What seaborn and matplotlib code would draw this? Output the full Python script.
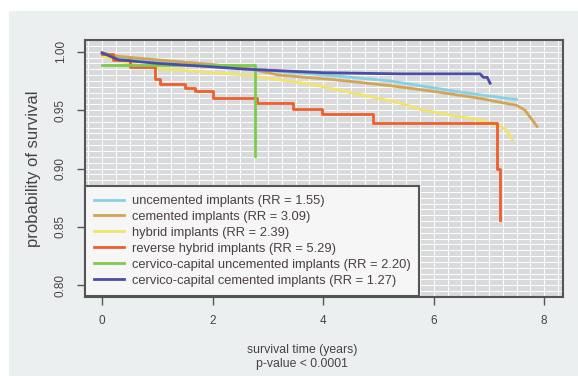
import matplotlib
matplotlib.use("Agg")
import matplotlib.pyplot as plt
import seaborn as sns
import pandas as pd
from matplotlib.patches import Rectangle

plt.rcParams["font.family"] = ["Liberation Sans", "DejaVu Sans"]

# ---------------- data ----------------
labels = [
    "uncemented implants (RR = 1.55)",
    "cemented implants (RR = 3.09)",
    "hybrid implants (RR = 2.39)",
    "reverse hybrid implants (RR = 5.29)",
    "cervico-capital uncemented implants (RR = 2.20)",
    "cervico-capital cemented implants (RR = 1.27)",
]
colors = ["#86d2e4", "#d3a455", "#f1e46c", "#ee5f2c", "#7dcb4c", "#4b4ea6"]

uncem_t = [0, 0.3, 1.0, 2.0, 2.8, 3.5, 4.3, 5.2, 6.4, 7.0, 7.5]
uncem_s = [0.999, 0.995, 0.991, 0.988, 0.985, 0.982, 0.979, 0.975, 0.966, 0.962, 0.959]

cem_t = [0, 0.3, 1.0, 2.0, 2.6, 3.2, 4.2, 5.2, 6.0, 6.84, 7.5, 7.65, 7.87]
cem_s = [0.999, 0.996, 0.993, 0.989, 0.986, 0.980, 0.976, 0.971, 0.966, 0.960, 0.954, 0.950, 0.936]

hyb_t = [0, 0.3, 0.9, 2.0, 2.6, 3.2, 3.8, 4.6, 5.4, 5.8, 6.4, 6.9, 7.3, 7.42]
hyb_s = [0.996, 0.992, 0.986, 0.982, 0.980, 0.976, 0.972, 0.964, 0.956, 0.950, 0.945, 0.941, 0.934, 0.925]

rev_t = [0, 0.2, 0.5, 0.96, 1.05, 1.5, 1.68, 2.0, 2.8, 3.46, 3.98, 4.9, 7.15, 7.2]
rev_s = [0.998, 0.993, 0.987, 0.977, 0.972, 0.969, 0.966, 0.960, 0.956, 0.951, 0.947, 0.939, 0.900, 0.856]

ccu_t = [0, 2.77]
ccu_s = [0.989, 0.911]

ccc_t = [0, 0.3, 1.0, 2.0, 2.6, 4.0, 5.4, 6.84, 6.9, 6.97, 7.02]
ccc_s = [0.999, 0.993, 0.990, 0.987, 0.985, 0.982, 0.981, 0.981, 0.978, 0.978, 0.973]

series_t = [uncem_t, cem_t, hyb_t, rev_t, ccu_t, ccc_t]
series_s = [uncem_s, cem_s, hyb_s, rev_s, ccu_s, ccc_s]
steps = [False, False, False, True, True, False]

xticks = [0, 2, 4, 6, 8]
yticks = [0.80, 0.85, 0.90, 0.95, 1.00]

# ---------------- figure ----------------
W, H = 578, 376
fig = plt.figure(figsize=(W / 100, H / 100), dpi=100)
fig.patch.set_facecolor("white")
bg = Rectangle((9 / W, 0), 1 - 9 / W, 1 - 11 / H, transform=fig.transFigure,
               facecolor="#eceff0", edgecolor="none", zorder=-10)
fig.patches.append(bg)

ax = fig.add_axes([85 / W, 1 - 297 / H, (563 - 85) / W, (297 - 40) / H])
ax.set_zorder(5)
ax.set_facecolor("#d9dadb")

for lab, col, t, s, st in zip(labels, colors, series_t, series_s, steps):
    df = pd.DataFrame({"time": t, "surv": s})
    kw = dict(drawstyle="steps-post") if st else {}
    sns.lineplot(data=df, x="time", y="surv", ax=ax, color=col, lw=2.0,
                 estimator=None, sort=False, label=lab, **kw)

ax.set_xlim(-0.31, 8.34)
ax.set_ylim(0.7915, 1.0085)
ax.set_xticks(xticks)
ax.set_xticklabels([str(v) for v in xticks])
ax.set_yticks(yticks)
ax.set_yticklabels([f"{v:.2f}" for v in yticks], rotation=90, va="center")
ax.set_xticks([i * 0.25 for i in range(-1, 34)], minor=True)
ax.set_yticks([0.79 + i * 0.005 for i in range(0, 45)], minor=True)
ax.grid(True, which="both", color="white", lw=0.7)
ax.set_axisbelow(True)
ax.tick_params(which="minor", length=0)
ax.tick_params(which="major", direction="out", length=6, width=1, color="#555555",
               labelsize=8.5, labelcolor="#444444", pad=7)
for sp in ax.spines.values():
    sp.set_color("#555555")
    sp.set_linewidth(1.5)
ax.set_xlabel("")
ax.set_ylabel("probability of survival", fontsize=12, color="#444444", labelpad=10)

leg = ax.legend(loc="lower left", bbox_to_anchor=(0, 0.005), borderaxespad=0,
                fontsize=9.3, frameon=True, fancybox=False, framealpha=1,
                facecolor="#f6f6f6", edgecolor="#555555", handlelength=2.3,
                labelspacing=0.3, borderpad=0.7, handletextpad=0.6)
leg.get_frame().set_linewidth(1.5)
for txt in leg.get_texts():
    txt.set_color("#4a4040")
for ln in leg.get_lines():
    ln.set_linewidth(2.0)

fig.text(302 / W, 1 - 350 / H, "survival time (years)", ha="center", va="center",
         fontsize=8.8, color="#444444")
fig.text(302 / W, 1 - 364 / H, "p-value < 0.0001", ha="center", va="center",
         fontsize=8.8, color="#444444")

fig.savefig("out.png", dpi=100, facecolor=fig.get_facecolor())
